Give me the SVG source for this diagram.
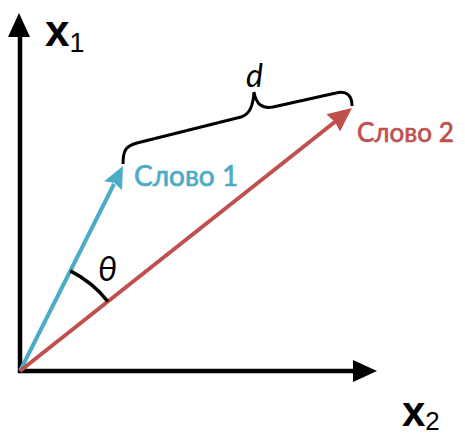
<svg xmlns="http://www.w3.org/2000/svg" width="465" height="436" viewBox="0 0 465 436">
<style>
.axis{fill:none;stroke:#000;stroke-width:4.5}
.lbl{font-family:"Liberation Sans",Arial,sans-serif;fill:#000;font-weight:bold}
.sub{font-weight:normal}
.word{font-family:Lato,"Noto Sans",sans-serif;stroke-width:0.7}
</style>
<rect width="465" height="436" fill="#fff"/>
<g id="connectors">
  <path class="axis" d="M20,36 V371 H353"/>
  <polygon points="19,13 8,37 30,37" fill="#000"/>
  <polygon points="377,371 353,360 353,382" fill="#000"/>
  <line x1="20" y1="371" x2="114" y2="184" stroke="#4bacc6" stroke-width="4"/>
  <polygon points="123,166 122,190.2 114.5,183 104.2,181.2" fill="#4bacc6"/>
  <line x1="20" y1="371" x2="336" y2="121" stroke="#c0504d" stroke-width="4"/>
  <polygon points="352,108 340,131.5 335,122 326.4,114.3" fill="#c0504d"/>
  <path d="M70.3,270.9 A112,112 0 0 1 107.8,301.5" fill="none" stroke="#000" stroke-width="3.5"/>
  <path d="M123,164 C123,150 126,146 137,143 L241,117 C250,114 253,106 254,92 C256,104 262,109 273,107 L336,93 C347,90 352,96 352,106" fill="none" stroke="#000" stroke-width="3"/>
</g>
<g id="x1"><text class="lbl" x="45" y="46" font-size="44">x<tspan class="sub" font-size="27" dy="6">1</tspan></text></g>
<g id="x2"><text class="lbl" x="402" y="426" font-size="42">x<tspan class="sub" font-size="26" dy="4">2</tspan></text></g>
<g id="d"><text x="246" y="87" font-family="Lato,sans-serif" font-style="italic" font-size="32">d</text></g>
<g id="theta"><text x="98" y="281" font-family="Lato,sans-serif" font-style="italic" font-size="34">θ</text></g>
<g id="word1"><text class="word" x="134" y="186" font-size="28" fill="#4bacc6" stroke="#4bacc6">Слово 1</text></g>
<g id="word2"><text class="word" x="357" y="142" font-size="26" fill="#c0504d" stroke="#c0504d">Слово 2</text></g>
</svg>
